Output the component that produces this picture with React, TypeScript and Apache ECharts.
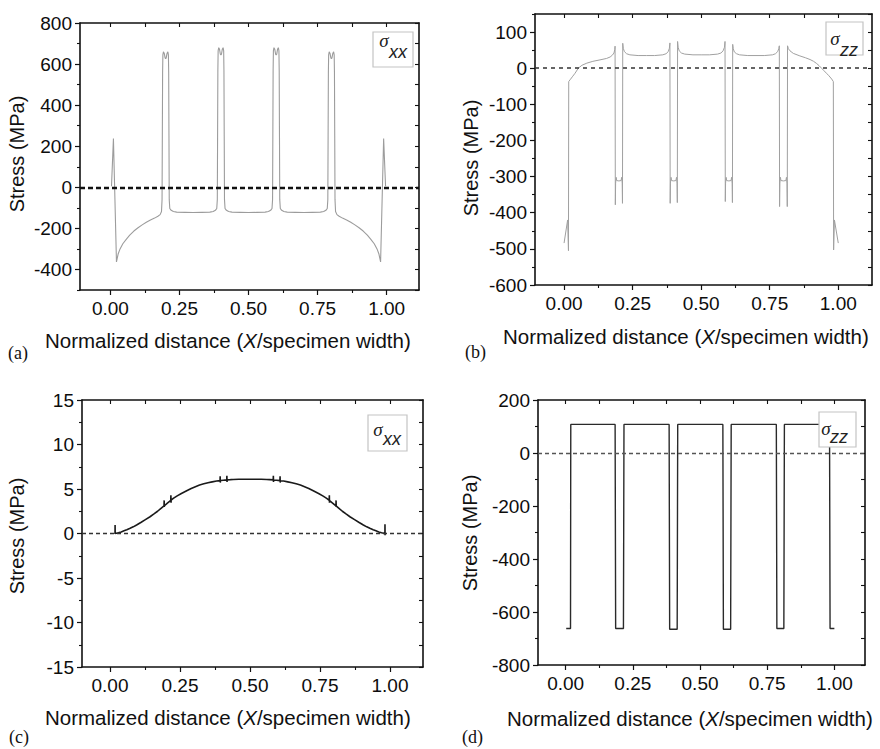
import React, { useEffect, useRef } from "react";
import * as echarts from "echarts";

type Pt = [number, number];

const FONT = "'Liberation Sans', Arial, Helvetica, sans-serif";
const SERIF = "'Liberation Serif', 'Times New Roman', serif";
const AX = "#111";

// ---- tick values ----
const xMajor = [0, 0.25, 0.5, 0.75, 1];
const xMinor = [0.125, 0.375, 0.625, 0.875];
const yMajorA = [-400, -200, 0, 200, 400, 600, 800];
const yMinorA = [-500, -300, -100, 100, 300, 500, 700];
const yMajorB = [-600, -500, -400, -300, -200, -100, 0, 100];
const yMinorB = [-550, -450, -350, -250, -150, -50, 50, 150];
const yMajorC = [-15, -10, -5, 0, 5, 10, 15];
const yMinorC = [-12.5, -7.5, -2.5, 2.5, 7.5, 12.5];
const yMajorD = [-800, -600, -400, -200, 0, 200];
const yMinorD = [-700, -500, -300, -100, 100];

// ---- (a) sigma_xx ----
const sxxA: Pt[] = [
  [0.004, 5], [0.011, 237], [0.015, 20], [0.022, -363], [0.028, -325], [0.035, -300], [0.045, -275],
  [0.058, -252], [0.07, -233], [0.085, -213], [0.1, -197], [0.115, -183], [0.13, -170], [0.145, -159],
  [0.16, -150], [0.172, -141], [0.18, -133], [0.185, -118],
  [0.187, -60], [0.188, 250], [0.189, 560], [0.19, 645], [0.192, 660], [0.195, 652], [0.198, 630], [0.2, 626],
  [0.202, 630], [0.205, 652], [0.208, 660], [0.21, 645], [0.211, 560], [0.212, 250], [0.213, -60],
  [0.215, -103], [0.22, -112], [0.228, -118], [0.24, -121], [0.27, -122], [0.3, -123], [0.33, -122],
  [0.36, -121], [0.372, -118], [0.38, -112], [0.385, -103],
  [0.387, -60], [0.388, 250], [0.389, 570], [0.39, 665], [0.392, 680], [0.395, 672], [0.398, 648], [0.4, 644],
  [0.402, 648], [0.405, 672], [0.408, 680], [0.41, 665], [0.411, 570], [0.412, 250], [0.413, -60],
  [0.415, -103], [0.42, -112], [0.428, -118], [0.44, -121], [0.47, -122], [0.5, -123], [0.53, -122],
  [0.56, -121], [0.572, -118], [0.58, -112], [0.585, -103],
  [0.587, -60], [0.588, 250], [0.589, 570], [0.59, 665], [0.592, 680], [0.595, 672], [0.598, 648], [0.6, 644],
  [0.602, 648], [0.605, 672], [0.608, 680], [0.61, 665], [0.611, 570], [0.612, 250], [0.613, -60],
  [0.615, -103], [0.62, -112], [0.628, -118], [0.64, -121], [0.67, -122], [0.7, -123], [0.73, -122],
  [0.76, -121], [0.772, -118], [0.78, -112], [0.785, -103],
  [0.787, -60], [0.788, 250], [0.789, 560], [0.79, 645], [0.792, 660], [0.795, 652], [0.798, 630], [0.8, 626],
  [0.802, 630], [0.805, 652], [0.808, 660], [0.81, 645], [0.811, 560], [0.812, 250], [0.813, -60],
  [0.815, -118], [0.82, -133], [0.828, -141], [0.84, -150], [0.855, -159], [0.87, -170], [0.885, -183],
  [0.9, -197], [0.915, -213], [0.93, -233], [0.942, -252], [0.955, -275], [0.965, -300], [0.972, -325],
  [0.978, -363], [0.985, 20], [0.989, 237], [0.996, 5],
];

// ---- (b) sigma_zz ----
const szzB: Pt[] = [
  [0.0, -484], [0.013, -420], [0.016, -505], [0.017, -37], [0.022, -32], [0.03, -24], [0.04, -14],
  [0.052, 0], [0.065, 8], [0.083, 14], [0.105, 19], [0.131, 23], [0.155, 27], [0.168, 31], [0.176, 36],
  [0.182, 42], [0.185, 52], [0.186, 61],
  [0.187, -378], [0.188, -318], [0.19, -302], [0.192, -311], [0.2, -312], [0.208, -311], [0.21, -302],
  [0.212, -318], [0.213, -374],
  [0.214, 69], [0.216, 55], [0.22, 46], [0.228, 40], [0.24, 37], [0.27, 35], [0.3, 35], [0.33, 35],
  [0.36, 37], [0.372, 40], [0.38, 46], [0.384, 55], [0.386, 70],
  [0.387, -374], [0.388, -318], [0.39, -302], [0.392, -311], [0.4, -312], [0.408, -311], [0.41, -302],
  [0.412, -318], [0.413, -372],
  [0.414, 74], [0.416, 58], [0.42, 48], [0.428, 42], [0.44, 39], [0.47, 37], [0.5, 37], [0.53, 37],
  [0.56, 39], [0.572, 42], [0.58, 48], [0.585, 58], [0.587, 74],
  [0.588, -369], [0.589, -318], [0.591, -302], [0.593, -311], [0.601, -312], [0.609, -311], [0.611, -302],
  [0.613, -318], [0.614, -372],
  [0.615, 66], [0.617, 54], [0.621, 45], [0.629, 40], [0.64, 37], [0.67, 35], [0.7, 35], [0.73, 35],
  [0.76, 37], [0.771, 40], [0.779, 46], [0.783, 54], [0.785, 62],
  [0.786, -383], [0.787, -318], [0.789, -302], [0.791, -311], [0.8, -312], [0.809, -311], [0.811, -302],
  [0.813, -318], [0.814, -383],
  [0.815, 62], [0.818, 54], [0.824, 48], [0.836, 41], [0.86, 34], [0.88, 29], [0.897, 24], [0.91, 19],
  [0.921, 13], [0.93, 7], [0.939, 0], [0.948, -7], [0.957, -14], [0.966, -21], [0.976, -30], [0.982, -37],
  [0.983, -503], [0.986, -420], [1.0, -484],
];

// ---- (c) sigma_xx ----
const sxxC: Pt[] = [
  [0.018, -0.05], [0.0182, 0.95], [0.0185, 0], [0.03, 0.08], [0.04, 0.18], [0.05, 0.3], [0.06, 0.42],
  [0.07, 0.56], [0.083, 0.75], [0.095, 0.96], [0.11, 1.24], [0.125, 1.53], [0.143, 1.88], [0.157, 2.2],
  [0.17, 2.5], [0.18, 2.76], [0.193, 3.1], [0.1935, 3.72], [0.194, 2.98], [0.1945, 3.12], [0.205, 3.42],
  [0.217, 3.72], [0.2175, 4.3], [0.218, 3.45], [0.2185, 3.74], [0.226, 3.94], [0.24, 4.23], [0.255, 4.5],
  [0.274, 4.8], [0.29, 5.05], [0.305, 5.25], [0.32, 5.44], [0.335, 5.58], [0.35, 5.7], [0.365, 5.8],
  [0.381, 5.89], [0.393, 5.94], [0.3935, 6.42], [0.394, 5.72], [0.3945, 5.95], [0.405, 5.99], [0.417, 6.02],
  [0.4175, 6.48], [0.418, 5.78], [0.4185, 6.03], [0.43, 6.05], [0.44, 6.07], [0.46, 6.09], [0.5, 6.1],
  [0.54, 6.09], [0.56, 6.07], [0.57, 6.05], [0.583, 6.02], [0.5835, 6.48], [0.584, 5.78], [0.5845, 6.02],
  [0.595, 5.99], [0.607, 5.94], [0.6075, 6.42], [0.608, 5.72], [0.6085, 5.93], [0.62, 5.89], [0.635, 5.8],
  [0.65, 5.7], [0.665, 5.58], [0.68, 5.44], [0.695, 5.25], [0.71, 5.05], [0.726, 4.8], [0.745, 4.5],
  [0.76, 4.23], [0.774, 3.94], [0.783, 3.72], [0.7835, 4.3], [0.784, 3.45], [0.7845, 3.7], [0.795, 3.42],
  [0.807, 3.1], [0.8075, 3.72], [0.808, 2.98], [0.8085, 3.08], [0.82, 2.76], [0.83, 2.5], [0.843, 2.2],
  [0.857, 1.88], [0.875, 1.53], [0.89, 1.24], [0.905, 0.96], [0.917, 0.75], [0.93, 0.56], [0.94, 0.42],
  [0.95, 0.3], [0.96, 0.18], [0.97, 0.08], [0.982, 0], [0.9822, 1.05], [0.9825, -0.19],
];

// ---- (d) sigma_zz ----
const szzD: Pt[] = [
  [0.002, -662], [0.018, -662], [0.019, 108], [0.184, 108], [0.186, -662], [0.215, -662], [0.217, 108],
  [0.385, 108], [0.387, -665], [0.415, -665], [0.417, 108], [0.585, 108], [0.587, -665], [0.614, -665],
  [0.616, 108], [0.784, 108], [0.786, -662], [0.812, -662], [0.814, 108], [0.982, 108], [0.984, -662],
  [1.0, -662],
];

const panelLabels = ["(a)", "(b)", "(c)", "(d)"];
const legendMain = ["σ", "σ", "σ", "σ"];
const legendSub = ["xx", "zz", "xx", "zz"];
const yTitle = "Stress (MPa)";

const panels = [
  {
    grid: { left: 80, top: 23, width: 339, height: 267 },
    xMin: -0.11, xMax: 1.117, yMin: -500, yMax: 800, yMajor: yMajorA, yMinor: yMinorA,
    data: sxxA, color: "#9c9c9c", lw: 1.1, zero: { color: "#111", width: 2.4, dash: [5, 3] },
    box: { x: 373, y: 32, w: 40, h: 35 }, sig: [384, 40], sub: [389, 52],
    lab: [8, 353], yt: [17, 154], xt: [45, 340],
  },
  {
    grid: { left: 535, top: 14, width: 337, height: 271 },
    xMin: -0.106, xMax: 1.123, yMin: -600, yMax: 150, yMajor: yMajorB, yMinor: yMinorB,
    data: szzB, color: "#a0a0a0", lw: 1, zero: { color: "#333", width: 1.7, dash: [4, 4] },
    box: { x: 826, y: 22, w: 37, h: 33 }, sig: [835, 38], sub: [840, 50],
    lab: [465, 352], yt: [471, 158], xt: [503, 336],
  },
  {
    grid: { left: 82, top: 400, width: 341, height: 267 },
    xMin: -0.1, xMax: 1.118, yMin: -15, yMax: 15, yMajor: yMajorC, yMinor: yMinorC,
    data: sxxC, color: "#1a1a1a", lw: 1.6, zero: { color: "#333", width: 1.4, dash: [4, 3] },
    box: { x: 368, y: 415, w: 39, h: 36 }, sig: [378, 429], sub: [383, 439],
    lab: [9, 737], yt: [17, 536], xt: [45, 717],
  },
  {
    grid: { left: 538, top: 400, width: 327, height: 265 },
    xMin: -0.103, xMax: 1.114, yMin: -800, yMax: 200, yMajor: yMajorD, yMinor: yMinorD,
    data: szzD, color: "#2a2a2a", lw: 1.4, zero: { color: "#555", width: 1.4, dash: [4, 3] },
    box: { x: 819, y: 412, w: 37, h: 35 }, sig: [826, 428], sub: [830, 437],
    lab: [462, 737], yt: [470, 533], xt: [507, 718],
  },
];

function buildOption() {
  const grid: any[] = [];
  const xAxis: any[] = [];
  const yAxis: any[] = [];
  const series: any[] = [];
  const graphic: any[] = [];

  panels.forEach((p, i) => {
    grid.push({ ...p.grid, containLabel: false });
    const xb = { gridIndex: i, type: "value", min: p.xMin, max: p.xMax, splitLine: { show: false } };
    const yb = { gridIndex: i, type: "value", min: p.yMin, max: p.yMax, splitLine: { show: false } };
    const line = { show: true, onZero: false, lineStyle: { color: AX, width: 1.6 } };
    const labelStyle = { fontSize: 19, fontFamily: FONT, color: "#0d0d0d" };

    xAxis.push({
      ...xb, position: "bottom", axisLine: line,
      axisTick: { show: true, inside: false, length: 5, customValues: xMajor, lineStyle: { color: AX, width: 1.2 } },
      axisLabel: { show: true, customValues: xMajor, margin: 9, formatter: (v: number) => v.toFixed(2), ...labelStyle },
    });
    xAxis.push({
      ...xb, position: "bottom", axisLine: { show: false, onZero: false },
      axisTick: { show: true, inside: false, length: 3, customValues: xMinor, lineStyle: { color: AX, width: 1.1 } },
      axisLabel: { show: false, customValues: xMinor },
    });
    xAxis.push({
      ...xb, position: "top", axisLine: line,
      axisTick: { show: true, inside: true, length: 4, customValues: [...xMajor, ...xMinor], lineStyle: { color: AX, width: 1.1 } },
      axisLabel: { show: false, customValues: xMajor },
    });

    yAxis.push({
      ...yb, position: "left", axisLine: line,
      axisTick: { show: true, inside: false, length: 5, customValues: p.yMajor, lineStyle: { color: AX, width: 1.2 } },
      axisLabel: { show: true, customValues: p.yMajor, margin: 8, formatter: (v: number) => String(v), ...labelStyle },
    });
    yAxis.push({
      ...yb, position: "left", axisLine: { show: false, onZero: false },
      axisTick: { show: true, inside: false, length: 3, customValues: p.yMinor, lineStyle: { color: AX, width: 1.1 } },
      axisLabel: { show: false, customValues: p.yMinor },
    });
    yAxis.push({
      ...yb, position: "right", axisLine: line,
      axisTick: { show: true, inside: true, length: 4, customValues: [...p.yMajor, ...p.yMinor], lineStyle: { color: AX, width: 1.1 } },
      axisLabel: { show: false, customValues: p.yMajor },
    });

    series.push({
      type: "line",
      xAxisIndex: 3 * i,
      yAxisIndex: 3 * i,
      data: p.data,
      showSymbol: false,
      symbol: "none",
      clip: true,
      z: 3,
      lineStyle: { color: p.color, width: p.lw },
      markLine: {
        silent: true,
        symbol: ["none", "none"],
        label: { show: false },
        lineStyle: { color: p.zero.color, width: p.zero.width, type: p.zero.dash },
        data: [{ yAxis: 0 }],
      },
    });

    // legend box
    graphic.push({
      type: "rect", z: 50,
      shape: { x: p.box.x, y: p.box.y, width: p.box.w, height: p.box.h },
      style: { fill: "#fff", stroke: "#c4c4c4", lineWidth: 1.2 },
    });
    graphic.push({
      type: "text", z: 51, x: p.sig[0], y: p.sig[1],
      style: { text: legendMain[i], font: `italic 19px ${SERIF}`, fill: "#222", align: "center", verticalAlign: "middle" },
    });
    graphic.push({
      type: "text", z: 51, x: p.sub[0], y: p.sub[1],
      style: { text: legendSub[i], font: `italic 18px ${FONT}`, fill: "#222", align: "left", verticalAlign: "middle" },
    });
    // panel label
    graphic.push({
      type: "text", z: 51, x: p.lab[0], y: p.lab[1],
      style: { text: panelLabels[i], font: `18px ${SERIF}`, fill: "#111", align: "left", verticalAlign: "middle" },
    });
    // y title
    graphic.push({
      type: "text", z: 51, x: p.yt[0], y: p.yt[1], rotation: Math.PI / 2,
      style: { text: yTitle, font: `20px ${FONT}`, fill: "#111", align: "center", verticalAlign: "middle" },
    });
    // x title
    graphic.push({
      type: "text", z: 51, x: p.xt[0], y: p.xt[1],
      style: {
        text: "Normalized distance ({i|X}/specimen width)",
        font: `20.5px ${FONT}`, fill: "#111", align: "left", verticalAlign: "middle",
        rich: { i: { fontStyle: "italic", fontSize: 20.5, fontFamily: FONT, fill: "#111" } },
      },
    });
  });

  return {
    animation: false,
    backgroundColor: "#fff",
    grid, xAxis, yAxis, series, graphic,
  };
}

export default function App() {
  const ref = useRef<HTMLDivElement>(null);
  useEffect(() => {
    if (!ref.current) return;
    const chart = echarts.init(ref.current, undefined, { renderer: "svg" });
    chart.setOption(buildOption() as any);
    return () => chart.dispose();
  }, []);
  return (
    <div
      ref={ref}
      style={{ position: "fixed", left: 0, top: 0, width: 880, height: 749, background: "#fff" }}
    />
  );
}
